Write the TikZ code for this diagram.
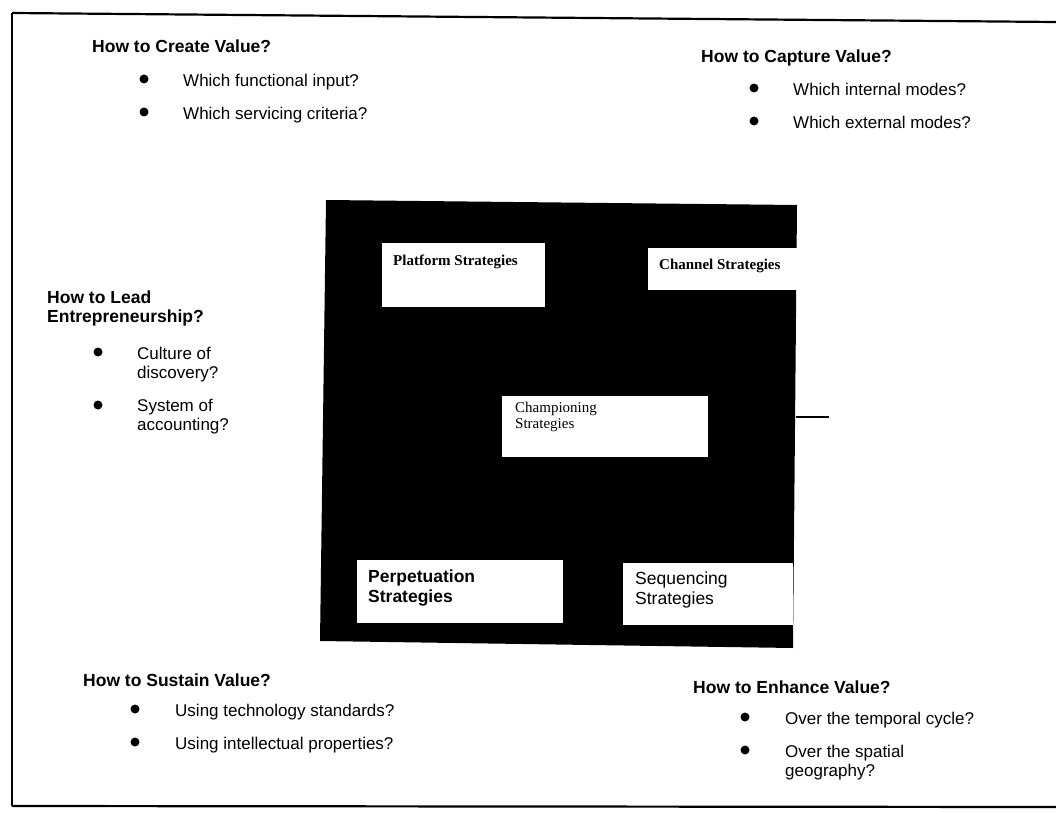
\documentclass[tikz,border=0pt]{standalone}
\usepackage{fontspec}
\setmainfont{Liberation Sans}
\newfontfamily\serifbox{Liberation Serif}
\begin{document}
\begin{tikzpicture}[x=1pt,y=-1pt,
  head/.style={anchor=base west,inner sep=0pt,font=\fontsize{17.5}{19}\selectfont\bfseries,align=left},
  body/.style={anchor=base west,inner sep=0pt,font=\fontsize{17}{19}\selectfont,align=left},
  wbox/.style={fill=white,draw=none,inner sep=0pt,anchor=north west},
  serift/.style={anchor=base west,inner sep=0pt,font=\fontsize{15}{16}\serifbox,align=left},
  sanst/.style={anchor=base west,inner sep=0pt,font=\fontsize{17.5}{20}\selectfont,align=left},
  dot/.style={fill=black},
  frame/.style={line width=2.2pt,black}]
\useasboundingbox (0,0) rectangle (1056,813);
\fill[white] (0,0) rectangle (1056,813);
% outer frame
\draw[frame] (12,13) -- (1056,22);
\draw[frame] (12,13) -- (12,806);
\draw[frame] (12,806) -- (1056,807);
% central black square
\fill[black] (326,200) -- (797,205) -- (793,648) -- (320,641) -- cycle;
% white boxes
\node[wbox,minimum width=163pt,minimum height=64pt] (plat) at (382,243) {};
\node[wbox,minimum width=150pt,minimum height=42pt] (chan) at (648,248) {};
\node[wbox,minimum width=206pt,minimum height=61pt] (champ) at (502,396) {};
\node[wbox,minimum width=206pt,minimum height=63pt] (perp) at (357,560) {};
\node[wbox,minimum width=170pt,minimum height=62pt] (seq) at (623,563) {};
\node[serift,font=\fontsize{15}{16}\serifbox\bfseries] (platT) at (393,265) {Platform Strategies};
\node[serift,font=\fontsize{15}{16}\serifbox\bfseries] (chanT) at (659,269) {Channel Strategies};
\node[serift] (champT) at (515,428) {Championing\\Strategies};
\node[sanst,font=\fontsize{17.5}{20}\selectfont\bfseries] (perpT) at (368,602) {Perpetuation\\Strategies};
\node[sanst] (seqT) at (635,604) {Sequencing\\Strategies};
% line to the right
\coordinate (sqE) at (796,417);
\coordinate (lineEnd) at (829,417);
\draw[line width=1.3pt] (sqE) -- (lineEnd);
% Create Value
\node[head] (create) at (92,53) {How to Create Value?};
\fill[dot] (144,79) circle (4.5);
\fill[dot] (144,112) circle (4.5);
\node[body] (create1) at (183,87) {Which functional input?};
\node[body] (create2) at (183,120) {Which servicing criteria?};
% Capture Value
\node[head] (capture) at (701,63) {How to Capture Value?};
\fill[dot] (754,88) circle (4.5);
\fill[dot] (754,121) circle (4.5);
\node[body] (capture1) at (793,96) {Which internal modes?};
\node[body] (capture2) at (793,129) {Which external modes?};
% Lead
\node[head] (lead) at (47,322) {How to Lead\\Entrepreneurship?};
\fill[dot] (98,352) circle (4.5);
\fill[dot] (98,405) circle (4.5);
\node[body] (lead1) at (137,378) {Culture of\\discovery?};
\node[body] (lead2) at (137,430) {System of\\accounting?};
% Sustain
\node[head] (sustain) at (83,686) {How to Sustain Value?};
\fill[dot] (135,709) circle (4.5);
\fill[dot] (135,742) circle (4.5);
\node[body] (sustain1) at (175,716) {Using technology standards?};
\node[body] (sustain2) at (175,749) {Using intellectual properties?};
% Enhance
\node[head] (enhance) at (693,693) {How to Enhance Value?};
\fill[dot] (745,717) circle (4.5);
\fill[dot] (745,750) circle (4.5);
\node[body] (enhance1) at (785,724) {Over the temporal cycle?};
\node[body] (enhance2) at (785,776) {Over the spatial\\geography?};
\end{tikzpicture}
\end{document}
